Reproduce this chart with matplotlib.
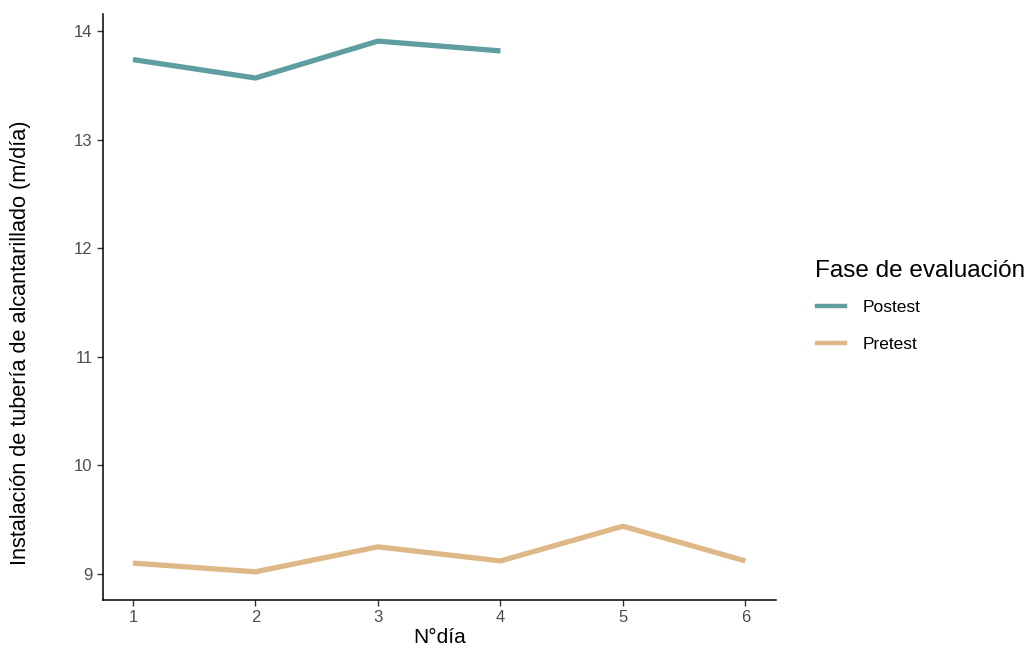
import matplotlib.pyplot as plt
from matplotlib.lines import Line2D

plt.rcParams['font.family'] = ['Liberation Sans', 'DejaVu Sans']

# Data
dias_post = [1, 2, 3, 4]
postest = [13.74, 13.57, 13.91, 13.82]
dias_pre = [1, 2, 3, 4, 5, 6]
pretest = [9.10, 9.02, 9.25, 9.12, 9.44, 9.12]
fases = ['Postest', 'Pretest']
colores = ['#5F9EA0', '#DEB887']

fig = plt.figure(figsize=(10.35, 6.6), dpi=100)
ax = fig.add_axes([0.0995, 0.0909, 0.6503, 0.8879])

ax.plot(dias_post, postest, color=colores[0], linewidth=3.8, label=fases[0], solid_capstyle='butt')
ax.plot(dias_pre, pretest, color=colores[1], linewidth=3.8, label=fases[1], solid_capstyle='butt')

ax.set_xlim(0.755, 6.25)
ax.set_ylim(8.76, 14.16)
ax.set_xticks([1, 2, 3, 4, 5, 6])
ax.set_yticks([9, 10, 11, 12, 13, 14])

for side in ['top', 'right']:
    ax.spines[side].set_visible(False)
for side in ['left', 'bottom']:
    ax.spines[side].set_linewidth(1.1)
    ax.spines[side].set_color('black')

ax.tick_params(axis='both', direction='out', length=4, width=1, color='#333333',
               labelsize=12, labelcolor='#4d4d4d')

ax.set_xlabel('N°día', fontsize=15, labelpad=2)
ax.set_ylabel('Instalación de tubería de alcantarillado (m/día)', fontsize=15.6)
ax.yaxis.set_label_coords((31 - 103) / 673.0, (600 - 343) / 586.0)

# legend title drawn separately so the spacing can follow the reference
fig.text(815 / 1035, 1 - 271 / 660, 'Fase de evaluación', fontsize=17.5,
         ha='left', va='center')
handles = [Line2D([], [], color=c, linewidth=3.2) for c in colores]
leg = fig.legend(handles, fases, loc='upper left', bbox_to_anchor=(0.7895, 0.546),
                 frameon=False, fontsize=12.5, handlelength=1.6,
                 handletextpad=1.0, labelspacing=1.27, borderpad=0, borderaxespad=0)

fig.savefig('out.png', dpi=100)
